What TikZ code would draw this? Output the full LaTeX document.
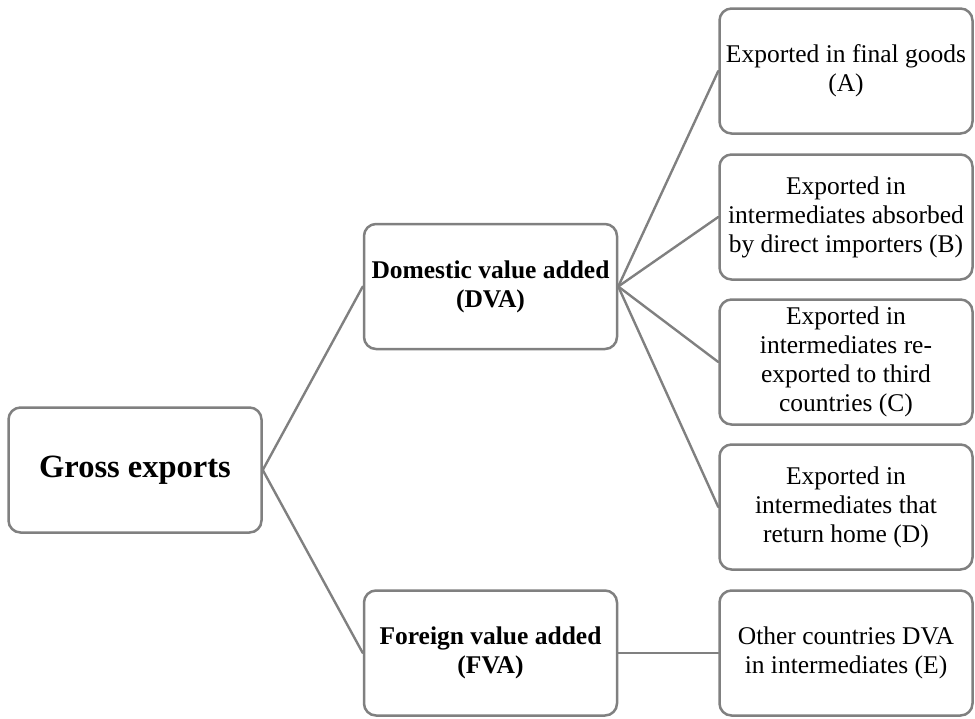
\documentclass[tikz,border=0pt]{standalone}
\usepackage{fontspec}
\setmainfont{Liberation Serif}
\tikzset{
  box/.style={draw=black!50, line width=2.5pt, rounded corners=12pt, fill=white,
    minimum width=253pt, minimum height=125pt, inner sep=0pt, align=center,
    font=\fontsize{25.5}{29}\selectfont},
  head box/.style={box, font=\fontsize{25.5}{29}\selectfont\bfseries},
  link/.style={draw=black!50, line width=2.4pt}
}
\begin{document}
\begin{tikzpicture}[x=1pt, y=-1pt, line cap=round, line join=round]
  \useasboundingbox (0,0) rectangle (975,718);
  % left column
  \node [head box, font=\fontsize{32.5}{36}\selectfont\bfseries] (gross) at (135,470) {Gross exports};
  % middle column
  \node [head box] (dva) at (490.5,286.5) {Domestic value added\\(DVA)};
  \node [head box] (fva) at (490.5,653) {Foreign value added\\(FVA)};
  % right column
  \node [box] (finalA) at (846,71) {Exported in final goods\\(A)};
  \node [box] (absorbB) at (846,217) {Exported in\\intermediates absorbed\\by direct importers (B)};
  \node [box] (reexpC) at (846,362) {Exported in\\intermediates re-\\exported to third\\countries (C)};
  \node [box] (returnD) at (846,507) {Exported in\\intermediates that\\return home (D)};
  \node [box] (otherE) at (846,653) {Other countries DVA\\in intermediates (E)};
  % links
  \path [link] (gross.east) -- (dva.west);
  \path [link] (gross.east) -- (fva.west);
  \foreach \n in {finalA, absorbB, reexpC, returnD}
    \path [link] (dva.east) -- (\n.west);
  \path [link] (fva.east) -- (otherE.west);
\end{tikzpicture}
\end{document}
